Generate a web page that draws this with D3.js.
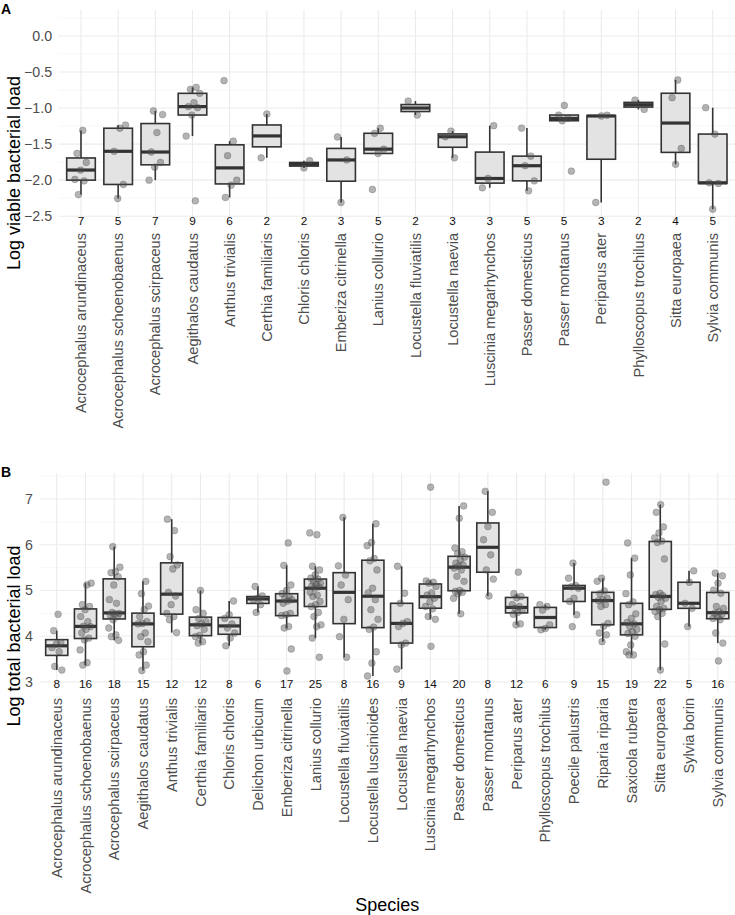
<!DOCTYPE html>
<html>
<head>
<meta charset="utf-8">
<script src="https://cdn.jsdelivr.net/npm/d3@7"></script>
<style>
  body { margin: 0; background: #fff; }
  svg { display: block; font-family: "Liberation Sans", Arial, sans-serif; }
  .grid-major { stroke: #ebebeb; stroke-width: 1.1; }
  .grid-minor { stroke: #f1f1f1; stroke-width: 0.6; }
  .tick-y { fill: #4d4d4d; font-size: 14.2px; }
  .tick-x { fill: #4d4d4d; font-size: 14.6px; }
  .count { fill: #111; font-size: 11.8px; }
  .axis-title { fill: #000; font-size: 18px; }
  .tag { fill: #000; font-size: 14px; font-weight: bold; }
  .box { fill: #e3e3e3; stroke: #333; stroke-width: 1.6; }
  .whisker { stroke: #333; stroke-width: 1.6; }
  .median { stroke: #333; stroke-width: 3.2; }
  .dot { fill: #4d4d4d; fill-opacity: 0.42; stroke: #4d4d4d; stroke-opacity: 0.35; stroke-width: 0.8; }
</style>
</head>
<body>
<svg id="chart"></svg>
<script>
// panel A: log viable bacterial load
const speciesA = [
  "Acrocephalus arundinaceus", "Acrocephalus schoenobaenus", "Acrocephalus scirpaceus",
  "Aegithalos caudatus", "Anthus trivialis", "Certhia familiaris", "Chloris chloris",
  "Emberiza citrinella", "Lanius collurio", "Locustella fluviatilis", "Locustella naevia",
  "Luscinia megarhynchos", "Passer domesticus", "Passer montanus", "Periparus ater",
  "Phylloscopus trochilus", "Sitta europaea", "Sylvia communis"
];
const viableLoad = [
  [-1.31, -1.63, -1.755, -1.86, -1.99, -2.01, -2.2],
  [-1.236, -1.28, -1.6, -2.06, -2.255],
  [-1.04, -1.09, -1.34, -1.61, -1.755, -1.82, -2.0],
  [-0.713, -0.74, -0.796, -0.926, -0.98, -0.995, -1.097, -1.389, -2.287],
  [-0.62, -1.46, -1.66, -2.0, -2.07, -2.24],
  [-1.083, -1.69],
  [-1.73, -1.83],
  [-1.40, -1.72, -2.31],
  [-1.28, -1.35, -1.57, -1.63, -2.13],
  [-0.903, -1.097],
  [-1.32, -1.398, -1.69],
  [-1.245, -1.977, -2.106],
  [-1.278, -1.667, -1.8, -2.01, -2.148],
  [-0.963, -1.097, -1.144, -1.176, -1.875],
  [-1.10, -1.11, -2.31],
  [-0.889, -1.019],
  [-0.611, -0.856, -1.56, -1.78],
  [-0.995, -1.361, -2.037, -2.046, -2.403]
];
const ticksA = [0, -0.5, -1, -1.5, -2, -2.5];
const minorA = [0.25, -0.25, -0.75, -1.25, -1.75, -2.25];

// panel B: log total bacterial load
const speciesB = [
  "Acrocephalus arundinaceus", "Acrocephalus schoenobaenus", "Acrocephalus scirpaceus",
  "Aegithalos caudatus", "Anthus trivialis", "Certhia familiaris", "Chloris chloris",
  "Delichon urbicum", "Emberiza citrinella", "Lanius collurio", "Locustella fluviatilis",
  "Locustella luscinioides", "Locustella naevia", "Luscinia megarhynchos", "Passer domesticus",
  "Passer montanus", "Periparus ater", "Phylloscopus trochilus", "Poecile palustris",
  "Riparia riparia", "Saxicola rubetra", "Sitta europaea", "Sylvia borin", "Sylvia communis"
];
const totalLoad = [
  [4.48, 4.12, 3.86, 3.83, 3.75, 3.66, 3.34, 3.26],
  [5.16, 5.12, 4.69, 4.65, 4.58, 4.43, 4.32, 4.22, 4.21, 4.15, 4.07, 3.96, 3.92, 3.70, 3.42, 3.37],
  [5.96, 5.51, 5.41, 5.39, 5.30, 5.12, 4.80, 4.72, 4.52, 4.50, 4.49, 4.46, 4.43, 4.36, 4.18, 4.03, 3.99, 3.91],
  [5.20, 4.93, 4.66, 4.58, 4.43, 4.32, 4.28, 4.27, 4.07, 3.99, 3.88, 3.66, 3.59, 3.37, 3.25],
  [6.56, 6.31, 5.74, 5.56, 5.47, 4.96, 4.88, 4.69, 4.50, 4.43, 4.36, 4.08],
  [5.00, 4.58, 4.50, 4.39, 4.32, 4.27, 4.23, 4.15, 4.02, 3.99, 3.88, 3.85],
  [4.77, 4.47, 4.39, 4.27, 4.18, 4.07, 3.96, 3.79],
  [5.09, 4.88, 4.83, 4.80, 4.69, 4.52],
  [6.04, 5.55, 5.12, 5.00, 4.93, 4.87, 4.83, 4.80, 4.77, 4.72, 4.50, 4.47, 4.45, 4.21, 4.18, 3.72, 3.24],
  [6.26, 6.22, 5.53, 5.45, 5.34, 5.27, 5.25, 5.20, 5.16, 5.14, 5.10, 5.08, 5.05, 4.96, 4.90, 4.87, 4.76, 4.69, 4.65, 4.52, 4.43, 4.25, 4.21, 3.96, 3.54],
  [6.60, 5.54, 5.34, 5.12, 4.80, 4.37, 3.99, 3.54],
  [6.46, 6.05, 5.98, 5.70, 5.65, 5.45, 5.05, 4.95, 4.80, 4.58, 4.37, 4.20, 4.15, 3.66, 3.41, 3.13],
  [5.53, 4.94, 4.72, 4.32, 4.28, 4.21, 3.85, 3.81, 3.28],
  [7.26, 5.21, 5.18, 5.16, 5.09, 4.95, 4.90, 4.83, 4.75, 4.65, 4.60, 4.43, 4.37, 3.78],
  [6.85, 6.58, 5.93, 5.85, 5.80, 5.73, 5.67, 5.60, 5.56, 5.53, 5.49, 5.45, 5.31, 5.20, 5.00, 4.98, 4.96, 4.93, 4.83, 4.49],
  [7.17, 6.71, 6.40, 6.11, 5.78, 5.45, 5.25, 4.88],
  [5.40, 4.93, 4.87, 4.84, 4.69, 4.65, 4.61, 4.56, 4.52, 4.48, 4.27, 4.25],
  [4.69, 4.65, 4.57, 4.25, 4.17, 4.14],
  [5.60, 5.27, 5.11, 5.08, 5.05, 4.83, 4.76, 4.47, 4.21],
  [7.37, 5.27, 5.20, 4.99, 4.93, 4.83, 4.80, 4.78, 4.69, 4.65, 4.28, 4.22, 4.07, 4.03, 3.88],
  [6.04, 5.71, 5.34, 4.93, 4.75, 4.69, 4.49, 4.39, 4.30, 4.27, 4.21, 4.15, 4.10, 4.06, 4.00, 3.81, 3.66, 3.59, 3.59],
  [6.88, 6.71, 6.39, 6.26, 6.15, 6.08, 6.05, 5.69, 4.94, 4.91, 4.89, 4.85, 4.83, 4.76, 4.65, 4.61, 4.58, 4.54, 4.50, 4.43, 3.83, 3.26],
  [5.43, 5.18, 4.72, 4.61, 4.21],
  [5.38, 5.32, 5.16, 5.01, 4.94, 4.65, 4.61, 4.53, 4.50, 4.48, 4.43, 4.39, 4.36, 4.07, 3.85, 3.46]
];
const ticksB = [3, 4, 5, 6, 7];
const minorB = [3.5, 4.5, 5.5, 6.5, 7.5];

const width = 735, height = 915;

const svg = d3.select("#chart")
  .attr("width", width)
  .attr("height", height);

// five-number summary the ggplot way (type 7 quantiles, 1.5 IQR whiskers)
function boxStats(values) {
  const s = values.slice().sort(d3.ascending);
  const q1 = d3.quantileSorted(s, 0.25),
        med = d3.quantileSorted(s, 0.5),
        q3 = d3.quantileSorted(s, 0.75),
        iqr = q3 - q1;
  const inside = s.filter(v => v >= q1 - 1.5 * iqr && v <= q3 + 1.5 * iqr);
  return { q1, med, q3, lo: d3.min(inside), hi: d3.max(inside) };
}

function drawPanel(cfg) {
  const { species, values, ticks, minor, left, top, bottom, domain, tag, title, titleY, countAt, tickFmt } = cfg;

  const x = d3.scalePoint()
    .domain(species)
    .range([left, width])
    .padding(0.6);

  const y = d3.scaleLinear()
    .domain(domain)
    .range([bottom, top]);

  const step = x.step(),
        boxW = step * 0.77,
        jitterW = step * 0.2;

  const g = svg.append("g");

  // grid
  g.selectAll(".grid-minor")
    .data(minor)
    .enter().append("line")
    .attr("class", "grid-minor")
    .attr("x1", left).attr("x2", width)
    .attr("y1", d => y(d)).attr("y2", d => y(d));

  g.selectAll(".grid-major.h")
    .data(ticks)
    .enter().append("line")
    .attr("class", "grid-major h")
    .attr("x1", left).attr("x2", width)
    .attr("y1", d => y(d)).attr("y2", d => y(d));

  g.selectAll(".grid-major.v")
    .data(species)
    .enter().append("line")
    .attr("class", "grid-major v")
    .attr("x1", d => x(d)).attr("x2", d => x(d))
    .attr("y1", top).attr("y2", bottom);

  // y tick labels
  g.selectAll(".tick-y")
    .data(ticks)
    .enter().append("text")
    .attr("class", "tick-y")
    .attr("x", left - 6.6)
    .attr("y", d => y(d))
    .attr("dy", "0.35em")
    .attr("text-anchor", "end")
    .text(tickFmt);

  // x tick labels, rotated
  g.selectAll(".tick-x")
    .data(species)
    .enter().append("text")
    .attr("class", "tick-x")
    .attr("transform", d => `translate(${x(d)}, ${bottom + 6}) rotate(-90)`)
    .attr("dy", "0.35em")
    .attr("text-anchor", "end")
    .text(d => d);

  const rows = species.map((s, i) => ({ s, v: values[i], st: boxStats(values[i]) }));

  // whiskers
  const grp = g.selectAll(".sp")
    .data(rows)
    .enter().append("g")
    .attr("class", "sp");

  grp.append("line")
    .attr("class", "whisker")
    .attr("x1", d => x(d.s)).attr("x2", d => x(d.s))
    .attr("y1", d => y(d.st.hi)).attr("y2", d => y(d.st.q3));

  grp.append("line")
    .attr("class", "whisker")
    .attr("x1", d => x(d.s)).attr("x2", d => x(d.s))
    .attr("y1", d => y(d.st.q1)).attr("y2", d => y(d.st.lo));

  grp.append("rect")
    .attr("class", "box")
    .attr("x", d => x(d.s) - boxW / 2)
    .attr("width", boxW)
    .attr("y", d => y(d.st.q3))
    .attr("height", d => Math.max(0.5, y(d.st.q1) - y(d.st.q3)));

  grp.append("line")
    .attr("class", "median")
    .attr("x1", d => x(d.s) - boxW / 2).attr("x2", d => x(d.s) + boxW / 2)
    .attr("y1", d => y(d.st.med)).attr("y2", d => y(d.st.med));

  // jittered points (deterministic spread)
  grp.selectAll(".dot")
    .data((d, k) => d.v.map((v, i) => ({ s: d.s, v, j: (((i + 1) * 0.618034 + k * 0.377) % 1) * 2 - 1 })))
    .enter().append("circle")
    .attr("class", "dot")
    .attr("cx", d => x(d.s) + d.j * jitterW)
    .attr("cy", d => y(d.v))
    .attr("r", 3.4);

  // n per species
  g.selectAll(".count")
    .data(rows)
    .enter().append("text")
    .attr("class", "count")
    .attr("x", d => x(d.s))
    .attr("y", y(countAt))
    .attr("dy", "0.35em")
    .attr("text-anchor", "middle")
    .text(d => d.v.length);

  // y title
  svg.append("text")
    .attr("class", "axis-title")
    .attr("transform", `translate(14, ${titleY}) rotate(-90)`)
    .attr("dy", "0.35em")
    .attr("text-anchor", "middle")
    .text(title);

  svg.append("text")
    .attr("class", "tag")
    .attr("x", 1)
    .attr("y", top + 4)
    .text(tag);

  return x;
}

const minusFmt = d => d3.format(".1f")(d).replace("-", "\u2212");

drawPanel({
  species: speciesA, values: viableLoad, ticks: ticksA, minor: minorA,
  left: 58.7, top: 10, bottom: 227, domain: [-2.65, 0.36],
  tag: "A", title: "Log viable bacterial load", titleY: 173, countAt: -2.56,
  tickFmt: minusFmt
});

const xB = drawPanel({
  species: speciesB, values: totalLoad, ticks: ticksB, minor: minorB,
  left: 39.5, top: 473, bottom: 692, domain: [2.78, 7.57],
  tag: "B", title: "Log total bacterial load", titleY: 636, countAt: 2.96,
  tickFmt: d => d
});

svg.append("text")
  .attr("class", "axis-title")
  .attr("x", (39.5 + width) / 2)
  .attr("y", 911)
  .attr("text-anchor", "middle")
  .text("Species");
</script>
</body>
</html>
